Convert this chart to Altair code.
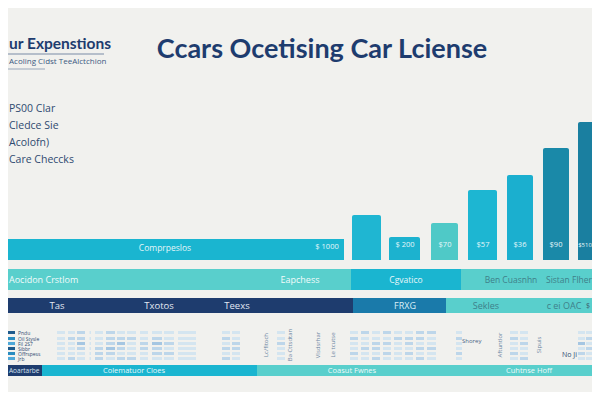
import altair as alt
import pandas as pd

# ---------------- data ----------------
main_title = "Ccars Ocetising Car Lciense"
side_title = "ur Expenstions"
side_subtitle = "Acoling Cidst TeeAlctchion"
list_labels = ["PS00 Clar", "Cledce Sie", "Acolofn)", "Care Checcks"]

# vertical cost bars (height units) and their labels
bar_values = [45, 23, 37, 70, 85, 112, 138]
bar_labels = ["", "$ 200", "$70", "$57", "$36", "$90", "$510"]
bar_colors = ["#1fb6d2", "#1cb2cf", "#4fc9c7", "#1db6d2", "#1bafcf", "#1a89a8", "#1a7fa0"]

# wide band row
band_label = "Comprpeslos"
band_value_label = "$ 1000"

# segmented rows
row2_labels = ["Aocidon Crstlom", "Eapchess", "Cgvatico", "Ben Cuasnhn", "Sistan Flher"]
row3_labels = ["Tas", "Txotos", "Teexs", "FRXG", "Sekles", "c ei OAC", "$"]
bottom_labels = ["Aoartarbe", "Colematuor Cloes", "Coasut Fwnes", "Cuhtnse Hoff"]

legend_labels = ["Pndu", "Oil Stysle", "Fil 2S7", "Sibbr", "Offrspess", "Jrb"]
vertical_labels = ["Lc/fitoch", "Ba Cttsdtan", "Vlsdsrhar", "Le tcutse", "Aftuntlor", "Sipuis"]
note_labels = ["Shorey", "No Ji"]

# table shade matrices (1 light .. 3 darker), one string per row
shadeB = ["112112111111", "122112221211", "113112312321", "112123212211", "111122111221", "121121221111"]
shadeC = ["11", "21", "12", "22", "11", "21"]
shadeD = ["1", "1", "2", "1", "1", "1"]
shadeE = ["12121122", "21112221", "11221211", "12211122", "21121211", "11211121"]
shadeF = ["1", "2", "1", "1", "2", "1"]
shadeG = ["11", "21", "12", "11", "21", "12"]
shadeH = ["11", "12", "31", "12", "21", "11"]
legend_shades = ["#1e5a8c", "#2a8cc0", "#4fa8d8", "#1e5a8c", "#2a8cc0", "#4fa8d8"]

# ---------------- styles / layout ----------------
BG = "#f1f1ee"
NAVY = "#1e3c6e"
TEAL = "#1ab5d0"
LTEAL = "#59cfcc"
BLUE = "#1a7aaa"
shade_col = {"1": "#d4e5f0", "2": "#bdd6ea", "3": "#a5c6e2"}

BASE = 260
bar_x = [352, 389, 431, 468, 507, 543, 578]
bar_w = [29, 31, 27, 29, 26, 26, 24]
bar_label_x = [366, 405, 445, 483, 520, 556, 585]
bar_label_size = [7.5, 7.5, 7.5, 7.5, 7.5, 7.5, 6]

row_y = [331, 337, 342, 347, 352, 357]

XS = alt.Scale(domain=[8, 592], nice=False, zero=False)
YS = alt.Scale(domain=[8, 392], nice=False, zero=False, reverse=True)

rects = []
def R(x, x2, y, y2, c):
    rects.append(dict(x=x, x2=x2, y=y, y2=y2, color=c))

# wide band
R(0, 344, 239, BASE, TEAL)
# row 2
R(0, 351, 269, 290, LTEAL); R(351, 461, 269, 290, TEAL); R(461, 597, 269, 290, LTEAL)
# row 3
R(0, 353, 298, 313, NAVY); R(353, 446, 298, 313, BLUE); R(446, 593, 298, 313, LTEAL)
# bottom bar
R(0, 42, 365, 376, NAVY); R(42, 257, 365, 376, TEAL); R(257, 600, 365, 376, LTEAL)
# underlines
R(0, 104, 53.5, 54.5, "#7b8ca6")
R(0, 45, 68.5, 69.5, "#9aa7ba")

def grid(cols, widths, shades):
    for ri, srow in enumerate(shades):
        for ci, ch in enumerate(srow):
            R(cols[ci], cols[ci] + widths[ci], row_y[ri], row_y[ri] + 3, shade_col[ch])

grid([57, 68, 77, 89.5, 95, 106, 117, 127, 140, 152, 164, 178], [8, 7, 8, 1.5, 8, 9, 8, 9, 8, 10, 10, 18], shadeB)
grid([222, 232], [8, 8], shadeC)
grid([277], [8], shadeD)
grid([350, 361, 372, 383, 394, 405, 416, 427], [8, 8, 8, 8, 8, 8, 8, 9], shadeE)
grid([456], [6], shadeF)
grid([510, 520], [8, 8], shadeG)
grid([578, 586], [7, 6], shadeH)
for i, c in enumerate(legend_shades):
    R(8, 15, row_y[i], row_y[i] + 3, c)

rect_df = pd.DataFrame(rects)

bars_df = pd.DataFrame(dict(x=bar_x, w=bar_w, value=bar_values, color=bar_colors))

texts = []
def T(x, y, s, size, color, align="center", weight="normal", angle=0):
    texts.append(dict(x=x, y=y, text=s, size=size, color=color, align=align, weight=weight, angle=angle))

T(322, 50, main_title, 27, NAVY, weight="bold")
T(9, 44, side_title, 15.5, NAVY, align="left", weight="bold")
T(9, 62, side_subtitle, 8, "#3d5a82", align="left")
for s, yy in zip(list_labels, [109, 126, 143, 160]):
    T(9, yy, s, 10.5, "#2f4a70", align="left")
for lx, s, fs in zip(bar_label_x, bar_labels, bar_label_size):
    if s:
        T(lx, 245, s, fs, "#e6f7fa")
T(165, 248, band_label, 8.5, "#e4f6f9")
T(327, 247, band_value_label, 7.5, "#e6f7fa")
T(9, 280, row2_labels[0], 9, "#f2fbfb", align="left")
T(300, 280, row2_labels[1], 9, "#f2fbfb")
T(406, 280, row2_labels[2], 8.5, "#e8f7fa")
T(511, 280, row2_labels[3], 8.5, "#3f7f8a")
T(569, 280, row2_labels[4], 8.5, "#3f7f8a")
for xx, s in zip([57, 159, 237], row3_labels[:3]):
    T(xx, 306, s, 9.5, "#e2e9f3")
T(405, 306, row3_labels[3], 9, "#dceff7")
T(486, 306, row3_labels[4], 9, "#3f7f8a")
T(564, 306, row3_labels[5], 9, "#3f7f8a")
T(588, 306, row3_labels[6], 7, "#3f5a70")
T(9, 371, bottom_labels[0], 6.5, "#d8e2ef", align="left")
T(134, 371, bottom_labels[1], 7.5, "#e6f7fa")
T(352, 371, bottom_labels[2], 7.5, "#eefafa")
T(529, 371, bottom_labels[3], 7.5, "#eefafa")
for i, s in enumerate(legend_labels):
    T(18, row_y[i] + 1.5, s, 5, "#2f4a70", align="left")
for xx, s in zip([266, 290, 318, 333, 500, 539], vertical_labels):
    T(xx, 345, s, 6, "#6d86a3", angle=270)
T(462, 341, note_labels[0], 6, "#4a6585", align="left")
T(562, 355, note_labels[1], 7, "#2f4a70", align="left")

text_df = pd.DataFrame(texts)

X = lambda f: alt.X(f, scale=XS, axis=None)
Y = lambda f: alt.Y(f, scale=YS, axis=None)

rect_layer = alt.Chart(rect_df).mark_rect().encode(
    x=X("x:Q"), x2="x2:Q", y=Y("y:Q"), y2="y2:Q",
    color=alt.Color("color:N", scale=None, legend=None),
)

bar_layer = alt.Chart(bars_df).transform_calculate(
    top=f"{BASE} - datum.value", right="datum.x + datum.w", base=f"{BASE}"
).mark_rect(cornerRadiusTopLeft=2, cornerRadiusTopRight=2).encode(
    x=X("x:Q"), x2="right:Q", y=Y("top:Q"), y2="base:Q",
    color=alt.Color("color:N", scale=None, legend=None),
)

layers = [rect_layer, bar_layer]
for (al, wt), sub in text_df.groupby(["align", "weight"]):
    font = "Lato" if wt == "bold" else "Open Sans"
    layers.append(
        alt.Chart(sub).mark_text(align=al, baseline="middle", fontWeight=wt, font=font).encode(
            x=X("x:Q"), y=Y("y:Q"), text="text:N",
            size=alt.Size("size:Q", scale=None, legend=None),
            color=alt.Color("color:N", scale=None, legend=None),
            angle=alt.Angle("angle:Q", scale=None),
        )
    )

chart = alt.layer(*layers).properties(
    width=584, height=384, padding=0, autosize="none", background=BG
).configure_view(stroke=None)

chart.save("out.html", embed_options={"renderer": "svg", "actions": False})
